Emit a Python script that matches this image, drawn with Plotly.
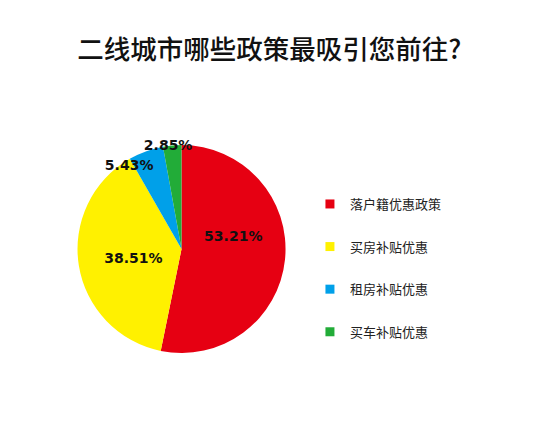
import plotly.graph_objects as go

categories = ["落户籍优惠政策", "买房补贴优惠", "租房补贴优惠", "买车补贴优惠"]
shares = [53.21, 38.51, 5.43, 2.85]
colors = ["#e60012", "#fff100", "#00a0e9", "#22ac38"]

# invisible padding nudges each label to where the original puts it
NB = "\u00a0"
label_fmt = [
    "%{value:.2f}%<br>" + NB + "<br>" + NB,
    NB * 2 + "%{value:.2f}%",
    "%{value:.2f}%" + NB * 9,
    "%{value:.2f}%" + NB * 2 + "<br>" + NB,
]

fig = go.Figure()
fig.add_trace(go.Pie(
    labels=categories,
    values=shares,
    sort=False,
    direction="clockwise",
    rotation=0,
    marker=dict(colors=colors, line=dict(width=0)),
    texttemplate=label_fmt,
    textposition="inside",
    insidetextorientation="horizontal",
    textfont=dict(family="DejaVu Sans", size=14, color="#111111", weight="bold"),
    domain=dict(x=[0.1264, 0.5046], y=[0.2159, 0.6887]),
    showlegend=False,
    hoverinfo="skip",
))

# legend drawn from dummy square markers so the entry spacing can be set
for cat, col in zip(categories, colors):
    fig.add_trace(go.Scatter(
        x=[None], y=[None], mode="markers", name=cat, legendgroup=cat,
        marker=dict(symbol="square", size=9, color=col),
    ))

fig.update_layout(
    width=550, height=440,
    margin=dict(l=0, r=0, t=0, b=0),
    paper_bgcolor="white", plot_bgcolor="white",
    uniformtext=dict(minsize=14, mode="show"),
    xaxis=dict(visible=False), yaxis=dict(visible=False),
    title=dict(text="二线城市哪些政策最吸引您前往?", x=0.475, xanchor="center",
               y=0.9045, yanchor="middle",
               font=dict(family="Noto Sans CJK SC", size=26.5, color="#111111", weight=500)),
    legend=dict(x=0.549, xanchor="left", y=0.5886, yanchor="top",
                tracegroupgap=22.7,
                font=dict(family="Noto Sans CJK SC", size=13, color="#222222")),
)

fig.write_html("out.html")
